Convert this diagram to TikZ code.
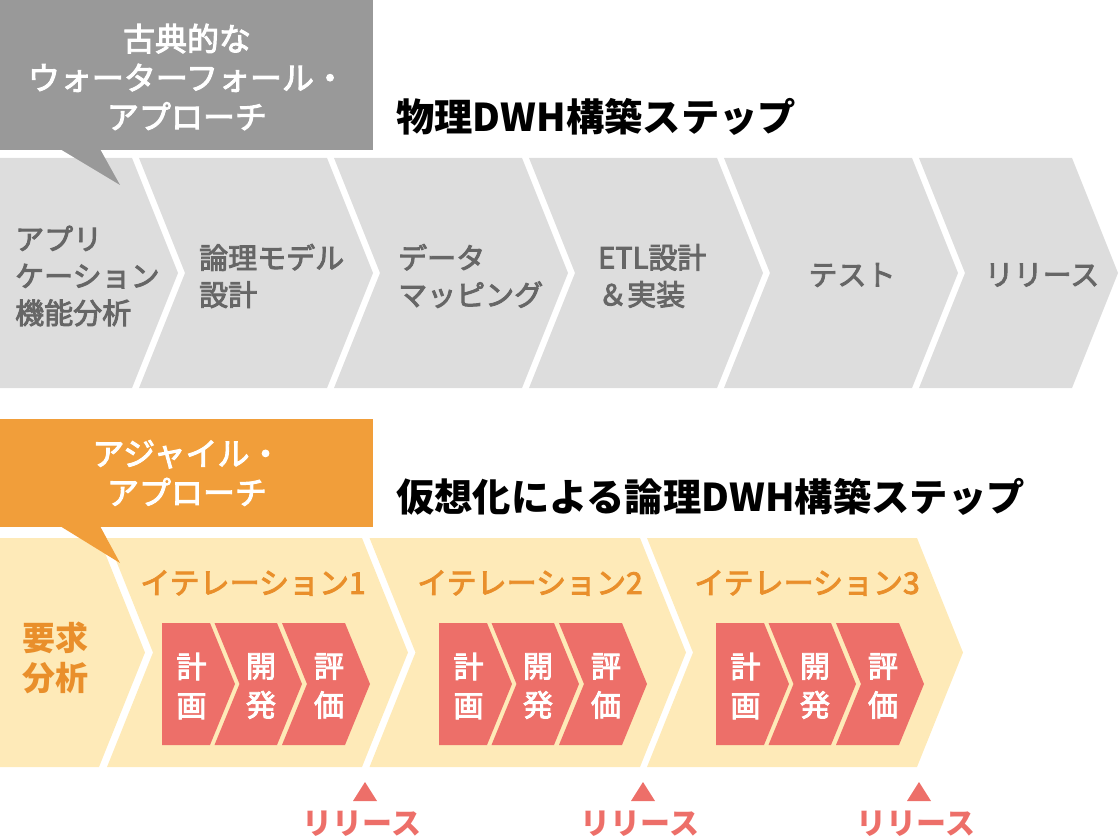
\documentclass[tikz,border=0pt]{standalone}
\usepackage{fontspec}
\setmainfont{Noto Sans CJK JP}
\newfontfamily\medfont{Noto Sans CJK JP}[RawFeature={embolden=3}]
\definecolor{cgray}{HTML}{999999}
\definecolor{chgray}{HTML}{DDDDDD}
\definecolor{txgray}{HTML}{666666}
\definecolor{corange}{HTML}{F19E3A}
\definecolor{cyellow}{HTML}{FEEAB8}
\definecolor{txorange}{HTML}{E98F2B}
\definecolor{cred}{HTML}{ED6F69}
\begin{document}
\begin{tikzpicture}[x=1pt,y=-1pt,
  graytxt/.style={text=txgray, font=\medfont\fontsize{29}{37}\selectfont, inner sep=0pt, align=left},
  callouttxt/.style={text=white, font=\medfont\fontsize{32}{39}\selectfont, inner sep=0pt, align=center},
  titletxt/.style={text=black, font=\bfseries\fontsize{38.3}{44}\selectfont, inner sep=0pt, anchor=west},
  itertxt/.style={text=txorange, font=\medfont\fontsize{30}{36}\selectfont, inner sep=0pt},
  reqtxt/.style={text=txorange, font=\bfseries\fontsize{33}{40}\selectfont, inner sep=0pt, align=left, anchor=west},
  redtxt/.style={text=white, font=\medfont\fontsize{30}{39}\selectfont, inner sep=0pt, align=center},
  reltxt/.style={text=cred, font=\bfseries\fontsize{30}{36}\selectfont, inner sep=0pt}]
\useasboundingbox (0,0) rectangle (1120,840);

% ---------- gray chevrons ----------
\fill[chgray] (0,158) -- (132,158) -- (178,273) -- (132,388) -- (0,388) -- cycle;
\foreach \a/\b in {139/327, 334/522, 529/717, 724/912, 919/1072}
  \fill[chgray] (\a,158) -- (\b,158) -- (\b+46,273) -- (\b,388) -- (\a,388) -- (\a+46,273) -- cycle;

% ---------- gray callout ----------
\fill[cgray] (0,0) rectangle (373,150);
\fill[cgray] (60,149) -- (100,149) -- (120,185) -- cycle;
\node[callouttxt] (cw) at (187,77) {古典的な\\ウォーターフォール・\\アプローチ};
\node[titletxt] (t1) at (396,117) {物理DWH構築ステップ};

% gray step labels
\node[graytxt, anchor=west] (g1) at (15,276) {アプリ\\ケーション\\機能分析};
\node[graytxt, anchor=west] (g2) at (199,276) {論理モデル\\設計};
\node[graytxt, anchor=west] (g3) at (398,276) {データ\\マッピング};
\node[graytxt, anchor=west] (g4) at (598,276) {ETL設計\\＆実装};
\node[graytxt] (g5) at (852,275) {テスト};
\node[graytxt] (g6) at (1042,275) {リリース};

% ---------- yellow chevrons ----------
\fill[cyellow] (0,538) -- (99,538) -- (145,652.5) -- (99,767) -- (0,767) -- cycle;
\foreach \a/\b in {107/362, 369.5/640, 647/917}
  \fill[cyellow] (\a,538) -- (\b,538) -- (\b+46,652.5) -- (\b,767) -- (\a,767) -- (\a+46,652.5) -- cycle;

\node[reqtxt] (req) at (22,658) {要求\\分析};

% ---------- iterations ----------
\foreach \s/\i in {162/1, 439/2, 716/3} {
  \fill[cred] (\s,623) -- (\s+48,623) -- (\s+73,684) -- (\s+48,745) -- (\s,745) -- cycle;
  \fill[cred] (\s+52.5,623) -- (\s+115,623) -- (\s+140,684) -- (\s+115,745) -- (\s+52.5,745) -- (\s+77.5,684) -- cycle;
  \fill[cred] (\s+120,623) -- (\s+183,623) -- (\s+208,684) -- (\s+183,745) -- (\s+120,745) -- (\s+145,684) -- cycle;
  \node[itertxt] (it\i) at (\s+91,583) {イテレーション\i};
  \node[redtxt] (pl\i) at (\s+29.5,686) {計\\画};
  \node[redtxt] (dv\i) at (\s+99,686) {開\\発};
  \node[redtxt] (ev\i) at (\s+167,686) {評\\価};
}

% release markers
\foreach \x/\i in {365/1, 643/2, 919/3} {
  \fill[cred] (\x,782) -- (\x+12,801) -- (\x-12,801) -- cycle;
  \node[reltxt] (rel\i) at (\x-3,824) {リリース};
}

% ---------- orange callout ----------
\fill[corange] (0,419) rectangle (373,527);
\fill[corange] (60,526) -- (100,526) -- (120,563) -- cycle;
\node[callouttxt] (ca) at (187,473) {アジャイル・\\アプローチ};
\node[titletxt] (t2) at (396,497) {仮想化による論理DWH構築ステップ};
\end{tikzpicture}
\end{document}
